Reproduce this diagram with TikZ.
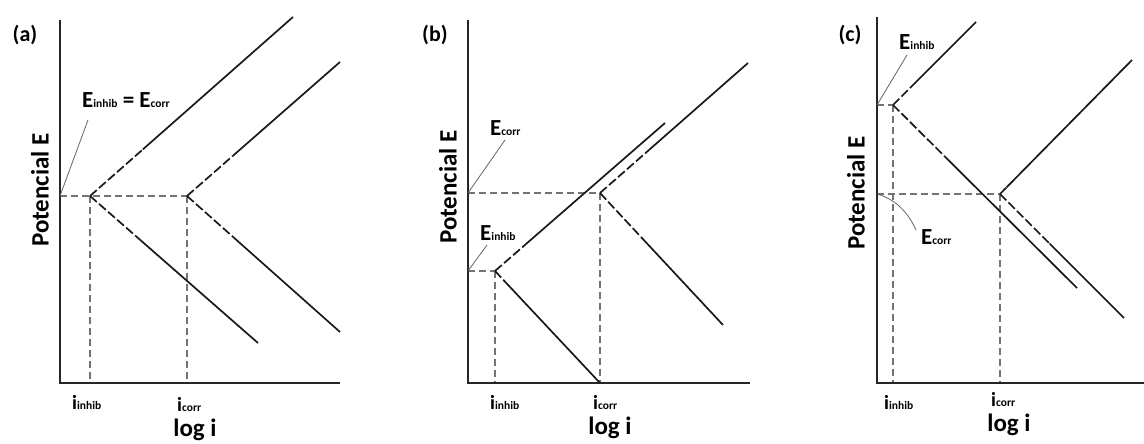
\documentclass[tikz,border=0pt]{standalone}
\usepackage{fontspec}
\setmainfont{Carlito}
\usetikzlibrary{calc}
\newcommand{\sbx}[1]{{\fontsize{11.5}{12}\selectfont #1}}
\newcommand{\Elab}[1]{E\sbx{#1}}
\newcommand{\ilab}[1]{i\sbx{#1}}
\tikzset{
  axisline/.style={black!85, line width=1.7pt},
  guide/.style={draw=black!55, line width=1.5pt, dash pattern=on 7pt off 4pt},
  branchline/.style={black!90, line width=1.7pt},
  branchdash/.style={black!90, line width=1.7pt, dash pattern=on 9pt off 3pt},
  leader/.style={black!60, line width=0.8pt},
  lbl/.style={font=\fontsize{23}{26}\selectfont\bfseries, inner sep=0pt},
  ilbl/.style={font=\fontsize{20}{22}\selectfont\bfseries, inner sep=0pt, anchor=west},
  ylbl/.style={font=\fontsize{25}{28}\selectfont\bfseries, inner sep=0pt, rotate=90},
  xlbl/.style={font=\fontsize{25}{28}\selectfont\bfseries, inner sep=0pt},
  plbl/.style={font=\fontsize{22}{26}\selectfont\bfseries, inner sep=0pt},
}
% \branch{vertex}{end}{fraction dashed}
\newcommand{\branch}[3]{%
  \draw[branchdash] (#1) -- ($(#1)!#3!(#2)$);
  \draw[branchline] ($(#1)!#3!(#2)$) -- (#2);}
\begin{document}
\begin{tikzpicture}[x=1pt,y=-1pt]
\useasboundingbox (0,0) rectangle (1144,444);
\fill[white] (0,0) rectangle (1144,444);

%%%%%%%%%%%%% Panel (a)
\coordinate (aO) at (60,383);
\coordinate (aTop) at (60,20);
\coordinate (aR) at (340,383);
\coordinate (aE) at (60,196);
\coordinate (aVi) at (90,196);
\coordinate (aVc) at (187,196);
\coordinate (aXi) at (90,383);
\coordinate (aXc) at (187,383);
\coordinate (aAi) at (293,17);
\coordinate (aCi) at (258,343);
\coordinate (aAc) at (340,62);
\coordinate (aCc) at (340,332);
\coordinate (aL) at (88,120);
\draw[guide] (aE) -- (aVc);
\draw[guide] (aVi) -- (aXi);
\draw[guide] (aVc) -- (aXc);
\draw[axisline] (aTop) -- (aO) -- (aR);
\branch{aVi}{aAi}{0.26}
\branch{aVi}{aCi}{0.3}
\branch{aVc}{aAc}{0.3}
\branch{aVc}{aCc}{0.3}
\draw[leader] (aE) -- (aL);
\node[lbl, anchor=west] (aEl) at (82,100) {\Elab{inhib} = \Elab{corr}};
\node[plbl] (aP) at (25,35) {(a)};
\node[ylbl] (aY) at (40,190) {Potencial E};
\node[xlbl] (aX) at (195,430) {log i};
\node[ilbl] (aii) at (72,403) {\ilab{inhib}};
\node[ilbl] (aic) at (177,405) {\ilab{corr}};

%%%%%%%%%%%%% Panel (b)
\coordinate (bO) at (468,383);
\coordinate (bTop) at (468,20);
\coordinate (bR) at (750,383);
\coordinate (bEc) at (468,193);
\coordinate (bEi) at (468,271);
\coordinate (bVi) at (495,271);
\coordinate (bVc) at (600,193);
\coordinate (bXi) at (495,383);
\coordinate (bXc) at (600,383);
\coordinate (bAi) at (665,123);
\coordinate (bAc) at (748,63);
\coordinate (bCc) at (723,325);
\coordinate (bLc) at (505,140);
\coordinate (bLi) at (487,245);
\draw[guide] (bEc) -- (bVc);
\draw[guide] (bEi) -- (bVi);
\draw[guide] (bVi) -- (bXi);
\draw[guide] (bVc) -- (bXc);
\draw[axisline] (bTop) -- (bO) -- (bR);
\branch{bVi}{bAi}{0.18}
\branch{bVi}{bXc}{0.1}
\branch{bVc}{bAc}{0.33}
\branch{bVc}{bCc}{0.38}
\draw[leader] (bEc) -- (bLc);
\draw[leader] (bEi) -- (bLi);
\node[lbl, anchor=west] (bElc) at (490,128) {\Elab{corr}};
\node[lbl, anchor=west] (bEli) at (480,233) {\Elab{inhib}};
\node[plbl] (bP) at (435,35) {(b)};
\node[ylbl] (bY) at (448,187) {Potencial E};
\node[xlbl] (bX) at (610,428) {log i};
\node[ilbl] (bii) at (490,403) {\ilab{inhib}};
\node[ilbl] (bic) at (593,403) {\ilab{corr}};

%%%%%%%%%%%%% Panel (c)
\coordinate (cO) at (877,383);
\coordinate (cTop) at (877,17);
\coordinate (cR) at (1144,383);
\coordinate (cEi) at (877,105);
\coordinate (cEc) at (877,194);
\coordinate (cVi) at (893,105);
\coordinate (cVc) at (1000,194);
\coordinate (cXi) at (893,383);
\coordinate (cXc) at (1000,383);
\coordinate (cAi) at (976,22);
\coordinate (cCi) at (1077,288);
\coordinate (cAc) at (1132,60);
\coordinate (cCc) at (1124,318);
\coordinate (cLi) at (907,55);
\coordinate (cLc) at (916,230);
\draw[guide] (cEi) -- (cVi);
\draw[guide] (cEc) -- (cVc);
\draw[guide] (cVi) -- (cXi);
\draw[guide] (cVc) -- (cXc);
\draw[axisline] (cTop) -- (cO) -- (cR);
\branch{cVi}{cAi}{0.25}
\branch{cVi}{cCi}{0.3}
\branch{cVc}{cAc}{0.05}
\branch{cVc}{cCc}{0.4}
\draw[leader] (cEi) -- (cLi);
\draw[leader] (cEc) .. controls (895,199) and (908,212) .. (cLc);
\node[lbl, anchor=west] (cEli) at (899,42) {\Elab{inhib}};
\node[lbl, anchor=west] (cElc) at (921,237) {\Elab{corr}};
\node[plbl] (cP) at (850,35) {(c)};
\node[ylbl] (cY) at (856,193) {Potencial E};
\node[xlbl] (cX) at (1009,425) {log i};
\node[ilbl] (cii) at (884,403) {\ilab{inhib}};
\node[ilbl] (cic) at (991,400) {\ilab{corr}};
\end{tikzpicture}
\end{document}
